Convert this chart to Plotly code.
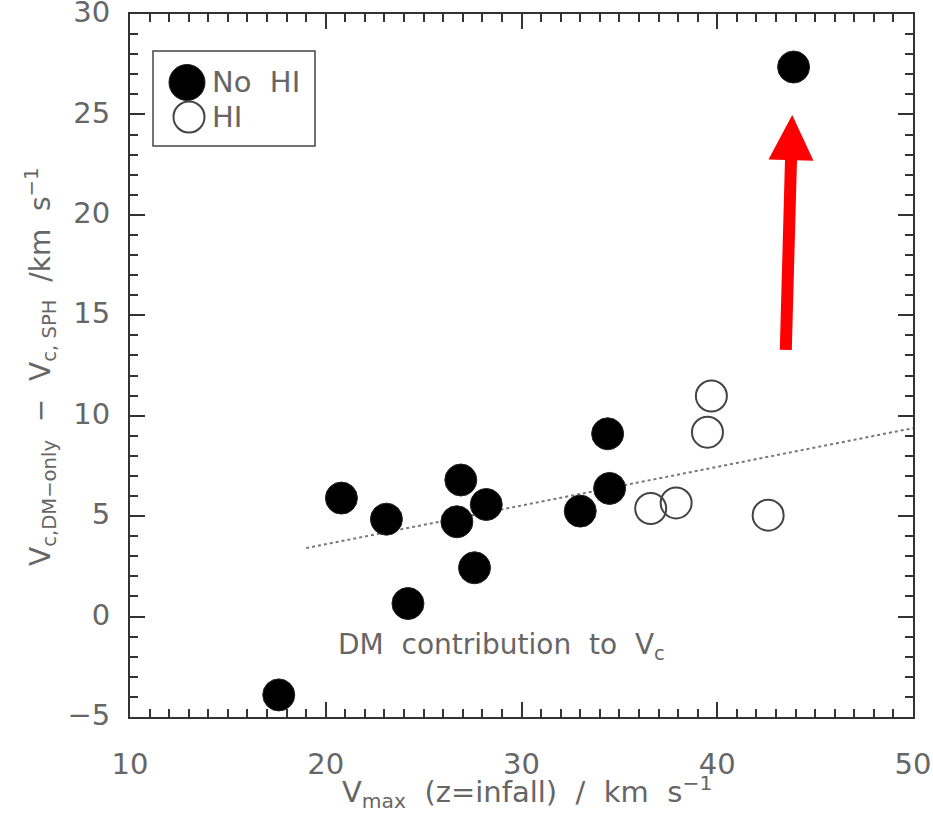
import plotly.graph_objects as go

# --- data ---
nohi_x = [17.6, 20.8, 23.1, 24.2, 26.9, 26.7, 28.2, 27.6, 33.0, 34.4, 34.5, 43.9]
nohi_y = [-3.9, 5.9, 4.85, 0.65, 6.8, 4.72, 5.58, 2.43, 5.25, 9.1, 6.38, 27.36]
hi_x = [36.6, 37.9, 39.5, 39.7, 42.6]
hi_y = [5.38, 5.66, 9.18, 10.98, 5.05]
fit_x = [19.0, 50.0]
fit_y = [3.41, 9.38]
arrow_tail = [43.5, 13.2]
arrow_tip = [43.83, 24.97]
x_ticks = [10, 20, 30, 40, 50]
y_ticks = [-5, 0, 5, 10, 15, 20, 25, 30]

TXT = "#666666"
FONT = "DejaVu Sans, sans-serif"
NB = "\u00a0"

fig = go.Figure()
fig.add_trace(go.Scatter(x=fit_x, y=fit_y, mode="lines",
                         line=dict(color="#777777", width=2, dash="dot"),
                         showlegend=False, hoverinfo="skip"))
fig.add_trace(go.Scatter(x=nohi_x, y=nohi_y, mode="markers", name="No HI",
                         marker=dict(size=32, color="black",
                                     line=dict(color="#222222", width=1)),
                         showlegend=False))
fig.add_trace(go.Scatter(x=hi_x, y=hi_y, mode="markers", name="HI",
                         marker=dict(size=31, color="rgba(0,0,0,0)",
                                     line=dict(color="#444444", width=2)),
                         showlegend=False))

# arrow
fig.add_annotation(x=arrow_tip[0], y=arrow_tip[1], ax=arrow_tail[0], ay=arrow_tail[1],
                   xref="x", yref="y", axref="x", ayref="y", text="",
                   showarrow=True, arrowhead=2, arrowwidth=12, arrowsize=0.75,
                   arrowcolor="#ff0000", standoff=0, startstandoff=0)

# in-plot text
fig.add_annotation(x=29.0, y=-1.5, xref="x", yref="y", showarrow=False,
                   text=f"DM{NB} contribution{NB} to{NB} V<sub>c</sub>",
                   font=dict(family=FONT, size=28, color=TXT))

W, H = 783.0, 703.0
# legend box
fig.add_shape(type="rect", xref="paper", yref="paper",
              x0=(153 - 130) / W, x1=(315 - 130) / W,
              y0=(717 - 146) / H, y1=(717 - 51) / H,
              line=dict(color="#444444", width=1.5))
def circ(cx, cy, d, fill, lc, lw):
    fig.add_shape(type="circle", xref="paper", yref="paper",
                  x0=(cx - 130 - d / 2) / W, x1=(cx - 130 + d / 2) / W,
                  y0=(717 - cy - d / 2) / H, y1=(717 - cy + d / 2) / H,
                  fillcolor=fill, line=dict(color=lc, width=lw))
circ(187, 82.5, 36, "black", "#222222", 1)
circ(189, 117, 31, "rgba(0,0,0,0)", "#444444", 2)
fig.add_annotation(xref="paper", yref="paper", x=(210 - 130) / W, y=(717 - 82) / H,
                   xanchor="left", yanchor="middle", showarrow=False,
                   text=f"No{NB} HI", font=dict(family=FONT, size=29, color=TXT))
fig.add_annotation(xref="paper", yref="paper", x=(210 - 130) / W, y=(717 - 117) / H,
                   xanchor="left", yanchor="middle", showarrow=False,
                   text="HI", font=dict(family=FONT, size=29, color=TXT))

# axis titles
fig.add_annotation(xref="paper", yref="paper", x=(527 - 130) / W, y=(717 - 792) / H,
                   xanchor="center", yanchor="middle", showarrow=False,
                   text=f"V<sub>max</sub>{NB} (z=infall){NB} /{NB} km{NB} s<sup>−1</sup>",
                   font=dict(family=FONT, size=29, color=TXT))
fig.add_annotation(xref="paper", yref="paper", x=(40 - 130) / W, y=(717 - 367) / H,
                   xanchor="center", yanchor="middle", showarrow=False, textangle=-90,
                   text=f"V<sub>c,DM−only</sub>{NB} −{NB} V<sub>c,{NB}SPH</sub>{NB} /km{NB} s<sup>−1</sup>",
                   font=dict(family=FONT, size=28, color=TXT))

axis_common = dict(ticks="inside", ticklen=15, tickwidth=1.5, tickcolor="#333333",
                   showline=True, linecolor="#333333", linewidth=2, mirror="allticks",
                   showgrid=False, zeroline=False, automargin=False,
                   ticklabeloverflow="allow",
                   tickfont=dict(family=FONT, size=29, color=TXT))
fig.update_xaxes(range=[10, 50], tickvals=x_ticks, ticklabelstandoff=20,
                 minor=dict(dtick=1, ticks="inside", ticklen=8, tickwidth=1.5,
                            tickcolor="#333333", showgrid=False),
                 **axis_common)
fig.update_yaxes(range=[-5, 30], tickvals=y_ticks, ticklabelstandoff=12,
                 ticklabelshift=-2,
                 minor=dict(dtick=1, ticks="inside", ticklen=8, tickwidth=1.5,
                            tickcolor="#333333", showgrid=False),
                 **axis_common)

fig.update_layout(width=933, height=813, margin=dict(l=130, r=20, t=14, b=96),
                  plot_bgcolor="white", paper_bgcolor="white", showlegend=False)
fig.write_html("out.html", config={"displayModeBar": False},
               post_script="document.body.style.margin='0';document.body.style.overflow='hidden';")
